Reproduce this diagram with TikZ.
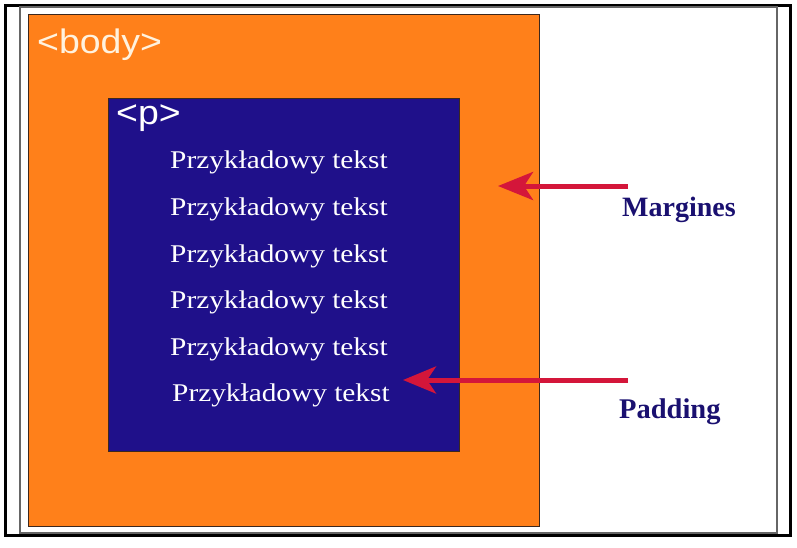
\documentclass[tikz,border=0pt]{standalone}
\usepackage{fontspec}
\usepackage{tikz}
\usetikzlibrary{arrows.meta}
\newfontfamily\tagfont[FakeStretch=1.1]{Liberation Sans}
\newfontfamily\txtfont[FakeStretch=1.15]{Liberation Serif}
\newfontfamily\lblfont{Liberation Serif}
\definecolor{bodyorange}{RGB}{255,128,26}
\definecolor{pblue}{RGB}{31,16,138}
\definecolor{arrowred}{RGB}{212,22,58}
\definecolor{lblnavy}{RGB}{26,16,112}
\definecolor{tagcream}{RGB}{255,242,222}
\definecolor{edgebrown}{RGB}{60,40,30}

\begin{document}
\begin{tikzpicture}[x=1pt,y=1pt,yscale=-1,xscale=1]
\useasboundingbox (0,0) rectangle (797,547);

%Shape: Rectangle [id:outer frame]
\draw [line width=3pt]  (5,5.5) rectangle (790,535) ;
%Shape: Rectangle [id:cell frame]
\draw [color=gray!80!black, line width=1.2pt]  (20,7) rectangle (777,533) ;
%Shape: Rectangle [id:body box]
\draw [fill=bodyorange, draw=edgebrown, line width=1pt]  (28.5,14) rectangle (539.5,526) ;
%Shape: Rectangle [id:p box]
\draw [fill=pblue, draw=edgebrown, line width=1pt]  (108,98) rectangle (459,451) ;

% Text Node
\draw (37,53) node (bodytag) [anchor=base west][inner sep=0pt] {\tagfont\fontsize{34}{38}\selectfont\color{tagcream}<body>};
% Text Node
\draw (116,124) node (ptag) [anchor=base west][inner sep=0pt] {\tagfont\fontsize{34}{38}\selectfont\color{white}<p>};

% Text Node
\draw (170,168) node (line1) [anchor=base west][inner sep=0pt] {\txtfont\fontsize{25.5}{30}\selectfont\color{white}Przykładowy tekst};
% Text Node
\draw (170,215) node (line2) [anchor=base west][inner sep=0pt] {\txtfont\fontsize{25.5}{30}\selectfont\color{white}Przykładowy tekst};
% Text Node
\draw (170,262) node (line3) [anchor=base west][inner sep=0pt] {\txtfont\fontsize{25.5}{30}\selectfont\color{white}Przykładowy tekst};
% Text Node
\draw (170,308) node (line4) [anchor=base west][inner sep=0pt] {\txtfont\fontsize{25.5}{30}\selectfont\color{white}Przykładowy tekst};
% Text Node
\draw (170,355) node (line5) [anchor=base west][inner sep=0pt] {\txtfont\fontsize{25.5}{30}\selectfont\color{white}Przykładowy tekst};
% Text Node
\draw (172,401) node (line6) [anchor=base west][inner sep=0pt] {\txtfont\fontsize{25.5}{30}\selectfont\color{white}Przykładowy tekst};

% Text Node
\draw (622,216) node (margines) [anchor=base west][inner sep=0pt] {\lblfont\bfseries\fontsize{28}{32}\selectfont\color{lblnavy}Margines};
% Text Node
\draw (619,418) node (padding) [anchor=base west][inner sep=0pt] {\lblfont\bfseries\fontsize{28.5}{32}\selectfont\color{lblnavy}Padding};

%Straight Lines [id:margin arrow]
\coordinate (mtail) at (628,186);
\coordinate (mtip) at (498,186);
\draw [color=arrowred, line width=5pt, -{Stealth[length=35pt,width=28pt,inset=9pt]}]  (mtail) -- (mtip) ;
%Straight Lines [id:padding arrow]
\coordinate (ptail) at (628,380);
\coordinate (ptip) at (403,380);
\draw [color=arrowred, line width=5pt, -{Stealth[length=33pt,width=27pt,inset=9pt]}]  (ptail) -- (ptip) ;

\end{tikzpicture}
\end{document}
